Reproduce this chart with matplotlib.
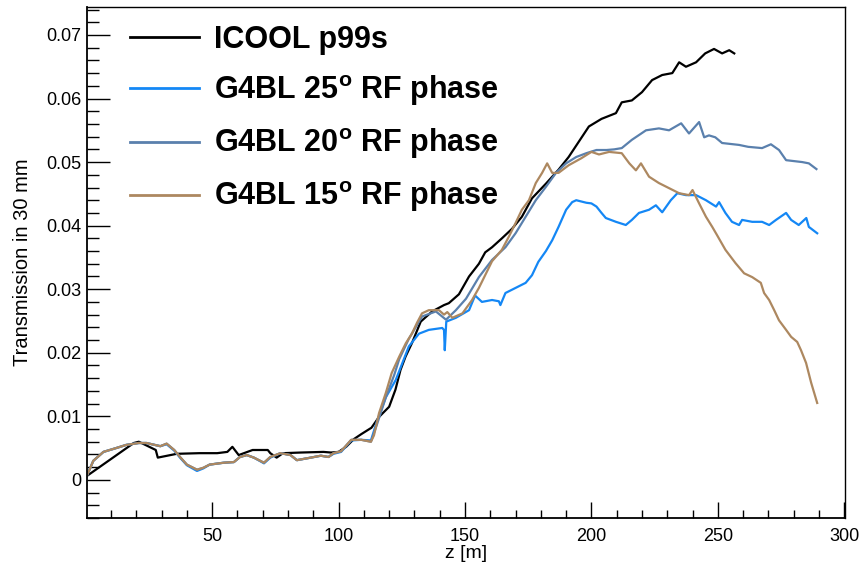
import matplotlib
matplotlib.use("Agg")
import matplotlib.pyplot as plt
from matplotlib.ticker import MultipleLocator, FormatStrFormatter

plt.rcParams["font.family"] = ["Liberation Sans", "DejaVu Sans"]
plt.rcParams["mathtext.fontset"] = "custom"
plt.rcParams["mathtext.rm"] = "Liberation Sans"
plt.rcParams["mathtext.bf"] = "Liberation Sans:bold"

# ICOOL reference run
z_icool = [0.4, 19, 21, 27.7, 28.5, 36, 45, 52, 56, 58, 60.5, 66, 72, 73, 75.5, 78,
           85, 94, 97, 100, 103, 106, 109, 113, 116, 120, 122.5, 124.5, 126.5, 129,
           132.5, 137, 141.7, 143.6, 147.6, 151.6, 155.5, 158, 160.7, 164.6, 168.6,
           172.5, 176.5, 182, 187, 191, 195, 199, 204, 209.7, 212, 216, 220, 224, 228,
           232, 234.7, 237.4, 241.4, 245, 248.5, 251.7, 254.5, 256.5]
t_icool = [0.0006, 0.0058, 0.0060, 0.0047, 0.0035, 0.0041, 0.0042, 0.0042, 0.0044,
           0.0052, 0.0039, 0.0047, 0.0047, 0.0042, 0.0035, 0.0042, 0.0043, 0.0044,
           0.0043, 0.0044, 0.0052, 0.0064, 0.0072, 0.0082, 0.0099, 0.0115, 0.0142,
           0.0173, 0.0194, 0.0215, 0.0249, 0.0265, 0.0275, 0.0278, 0.0292, 0.0320,
           0.0340, 0.0358, 0.0366, 0.0380, 0.0395, 0.0414, 0.0443, 0.0466, 0.0488,
           0.0508, 0.0532, 0.0556, 0.0568, 0.0577, 0.0594, 0.0597, 0.0610, 0.0629,
           0.0637, 0.0640, 0.0657, 0.0650, 0.0657, 0.0671, 0.0678, 0.0671, 0.0676,
           0.0671]

# G4BL, 25 deg RF phase
z_g25 = [0.4, 3, 7, 12, 16, 21, 24, 29.5, 32, 35, 37.5, 40, 44, 46.5, 49, 54.6, 58.6,
         61, 63.7, 66.5, 70.5, 73, 77, 81, 83.5, 89, 93, 96, 98, 101, 105, 109, 112.8,
         115, 118.7, 122.6, 127.8, 131.8, 135.7, 141, 141.7, 142, 142.6, 146.4, 151.6,
         154, 156.7, 160.7, 163.4, 164, 166, 170, 174, 176.5, 179, 182, 184.5, 187,
         190, 192.4, 194, 198, 200, 202, 204, 205.7, 209.7, 213.6, 216, 218.8, 222.8,
         225.5, 228, 231.4, 234, 237.4, 241.4, 245.3, 249.3, 250.5, 253, 255.6, 258.4,
         259.6, 263.6, 267.5, 270.3, 273, 277, 279, 282, 285, 286, 289.3]
t_g25 = [0.0006, 0.0030, 0.0044, 0.0050, 0.0055, 0.0058, 0.0058, 0.0053, 0.0056,
         0.0046, 0.0034, 0.0023, 0.0014, 0.0018, 0.0024, 0.0027, 0.0028, 0.0036,
         0.0039, 0.0035, 0.0026, 0.0035, 0.0042, 0.0039, 0.0031, 0.0035, 0.0038,
         0.0036, 0.0041, 0.0044, 0.0062, 0.0063, 0.0062, 0.0090, 0.0130, 0.0157,
         0.0210, 0.0230, 0.0236, 0.0239, 0.0236, 0.0204, 0.0249, 0.0255, 0.0267,
         0.0290, 0.0280, 0.0283, 0.0281, 0.0275, 0.0294, 0.0302, 0.0310, 0.0322,
         0.0343, 0.0360, 0.0377, 0.0398, 0.0425, 0.0437, 0.0440, 0.0436, 0.0435,
         0.0430, 0.0420, 0.0412, 0.0406, 0.0401, 0.0409, 0.0420, 0.0425, 0.0432,
         0.0421, 0.0440, 0.0451, 0.0448, 0.0448, 0.0440, 0.0430, 0.0437, 0.0420,
         0.0406, 0.0401, 0.0409, 0.0406, 0.0406, 0.0401, 0.0409, 0.0420, 0.0409,
         0.0401, 0.0412, 0.0398, 0.0388]

# G4BL, 20 deg RF phase
z_g20 = [0.4, 3, 7, 12, 16, 21, 24, 29.5, 32, 35, 37.5, 40, 44, 46.5, 49, 54.6, 58.6,
         61, 63.7, 66.5, 70.5, 73, 77, 81, 83.5, 89, 93, 96, 98, 101, 105, 109, 112.8,
         115, 118.7, 122, 124, 127.8, 133, 138.5, 142.5, 146.4, 150.4, 155.5, 160.7,
         166, 170, 174, 178, 182, 186, 190, 194, 198, 202, 206, 209, 212, 216, 221.6,
         226.7, 230.7, 235.5, 238.6, 242.6, 244.6, 246.5, 249, 251.7, 258.4, 262,
         267.5, 271, 274.2, 277, 283.4, 286, 289]
t_g20 = [0.0006, 0.0030, 0.0044, 0.0050, 0.0055, 0.0058, 0.0058, 0.0053, 0.0057,
         0.0047, 0.0035, 0.0024, 0.0016, 0.0019, 0.0024, 0.0027, 0.0028, 0.0036,
         0.0039, 0.0035, 0.0027, 0.0036, 0.0042, 0.0039, 0.0031, 0.0035, 0.0038,
         0.0036, 0.0042, 0.0045, 0.0063, 0.0063, 0.0060, 0.0085, 0.0130, 0.0165,
         0.0190, 0.0222, 0.0257, 0.0265, 0.0252, 0.0267, 0.0285, 0.0319, 0.0346,
         0.0366, 0.0388, 0.0414, 0.0440, 0.0461, 0.0483, 0.0498, 0.0508, 0.0514,
         0.0519, 0.0519, 0.0520, 0.0522, 0.0535, 0.0550, 0.0553, 0.0550, 0.0561,
         0.0545, 0.0563, 0.0539, 0.0542, 0.0539, 0.0530, 0.0527, 0.0524, 0.0522,
         0.0528, 0.0519, 0.0503, 0.0500, 0.0498, 0.0489]

# G4BL, 15 deg RF phase
z_g15 = [0.4, 3, 7, 12, 16, 21, 24, 29.5, 32, 35, 37.5, 40, 44, 46.5, 49, 54.6, 58.6,
         61, 63.7, 66.5, 70.5, 73, 77, 81, 83.5, 89, 93, 96, 98, 101, 105, 109, 112.8,
         114, 116, 118.7, 121, 124, 126.6, 129, 131, 133, 135.7, 139.7, 141.7, 143,
         145, 149, 152.8, 155.5, 160.7, 164.6, 167.4, 170, 172.5, 175.3, 178, 180.5,
         182.5, 184.5, 187, 191, 196, 200, 203, 207, 212, 215, 217.6, 219.6, 222.8,
         226.7, 230.7, 234.7, 238.6, 240, 242.6, 245.3, 247.8, 249.7, 253, 257, 260.4,
         263.6, 267, 268.3, 270.3, 272.3, 274.2, 277, 279, 281.4, 282.9, 284.9, 286.9,
         288.1, 289.3]
t_g15 = [0.0006, 0.0030, 0.0044, 0.0050, 0.0055, 0.0058, 0.0058, 0.0053, 0.0057,
         0.0047, 0.0035, 0.0024, 0.0016, 0.0019, 0.0024, 0.0027, 0.0028, 0.0036,
         0.0039, 0.0035, 0.0027, 0.0036, 0.0042, 0.0039, 0.0031, 0.0035, 0.0038,
         0.0036, 0.0042, 0.0045, 0.0063, 0.0063, 0.0060, 0.0070, 0.0105, 0.0137,
         0.0168, 0.0194, 0.0215, 0.0230, 0.0247, 0.0262, 0.0267, 0.0267, 0.0260,
         0.0264, 0.0255, 0.0262, 0.0283, 0.0302, 0.0344, 0.0362, 0.0383, 0.0404,
         0.0425, 0.0440, 0.0467, 0.0483, 0.0498, 0.0483, 0.0483, 0.0495, 0.0506,
         0.0516, 0.0512, 0.0516, 0.0514, 0.0498, 0.0487, 0.0498, 0.0477, 0.0467,
         0.0459, 0.0451, 0.0448, 0.0456, 0.0435, 0.0414, 0.0398, 0.0385, 0.0362,
         0.0341, 0.0325, 0.0319, 0.0310, 0.0294, 0.0283, 0.0267, 0.0251, 0.0236,
         0.0225, 0.0217, 0.0204, 0.0184, 0.0153, 0.0137, 0.0121]

labels = ["ICOOL p99s",
          r"G4BL 25$^{\mathbf{o}}$ RF phase",
          r"G4BL 20$^{\mathbf{o}}$ RF phase",
          r"G4BL 15$^{\mathbf{o}}$ RF phase"]
colors = ["#000000", "#1487f5", "#5a80ad", "#ad8860"]

fig = plt.figure(figsize=(8.6, 5.65), dpi=100)
ax = fig.add_axes([87 / 860, 1 - 518 / 565, 758 / 860, 511 / 565])

series = [(z_icool, t_icool), (z_g25, t_g25), (z_g20, t_g20), (z_g15, t_g15)]
for (z, t), lab, col in zip(series, labels, colors):
    ax.plot(z, t, color=col, lw=1.6, label=lab)

ax.set_xlim(0.5, 300.3)
ax.set_ylim(-0.006, 0.0744)

ax.xaxis.set_major_locator(MultipleLocator(50))
ax.xaxis.set_minor_locator(MultipleLocator(10))
ax.yaxis.set_major_locator(MultipleLocator(0.01))
ax.yaxis.set_minor_locator(MultipleLocator(0.002))
ax.yaxis.set_major_formatter(FormatStrFormatter("%g"))

ax.tick_params(axis="both", which="both", direction="in", color="black",
               labelsize=13, width=1.0)
ax.tick_params(axis="x", which="major", length=11.5, pad=7)
ax.tick_params(axis="x", which="minor", length=6)
ax.tick_params(axis="y", which="major", length=16.5, pad=4)
ax.tick_params(axis="y", which="minor", length=8.5)

for side in ["left", "bottom"]:
    ax.spines[side].set_linewidth(1.3)
for side in ["right", "top"]:
    ax.spines[side].set_linewidth(1.0)

ax.set_xlabel("z [m]", fontsize=14, labelpad=0)
ax.set_ylabel("Transmission in 30 mm", fontsize=14.5, labelpad=10)

leg = ax.legend(loc="upper left", bbox_to_anchor=(130 / 860, 1 - 25 / 565),
                bbox_transform=fig.transFigure, frameon=False,
                prop={"weight": "bold", "size": 22}, handlelength=2.25,
                handletextpad=0.5, labelspacing=0.6, borderpad=0,
                borderaxespad=0)
for line in leg.get_lines():
    line.set_linewidth(2.0)

fig.savefig("out.png", dpi=100)
